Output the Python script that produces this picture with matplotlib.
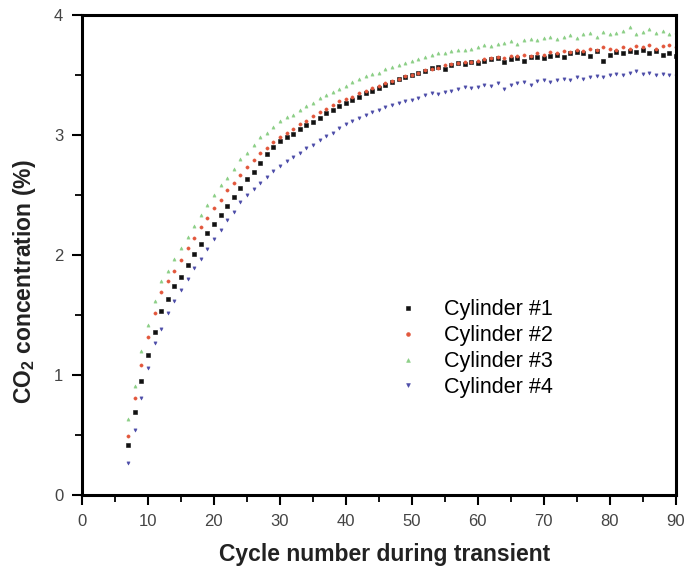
import matplotlib
matplotlib.use('Agg')
import matplotlib.pyplot as plt
import numpy as np
from matplotlib.ticker import MultipleLocator

plt.rcParams['font.family'] = ['Liberation Sans', 'DejaVu Sans']
plt.rcParams['mathtext.fontset'] = 'custom'
plt.rcParams['mathtext.rm'] = 'Liberation Sans'
plt.rcParams['mathtext.bf'] = 'Liberation Sans:bold'

cycles = np.arange(7, 91)

cyl1 = [0.42, 0.69, 0.95, 1.17, 1.36, 1.53, 1.63, 1.74, 1.82, 1.92,
        2.01, 2.09, 2.18, 2.26, 2.33, 2.41, 2.48, 2.56, 2.63, 2.69,
        2.77, 2.84, 2.90, 2.95, 2.98, 3.01, 3.05, 3.08, 3.11, 3.14,
        3.18, 3.21, 3.24, 3.27, 3.29, 3.32, 3.35, 3.37, 3.39, 3.42,
        3.44, 3.47, 3.48, 3.50, 3.52, 3.53, 3.56, 3.57, 3.55, 3.58,
        3.60, 3.59, 3.61, 3.60, 3.62, 3.63, 3.64, 3.61, 3.63, 3.64,
        3.62, 3.65, 3.65, 3.64, 3.66, 3.67, 3.65, 3.68, 3.69, 3.68,
        3.66, 3.70, 3.62, 3.67, 3.69, 3.68, 3.70, 3.69, 3.71, 3.68,
        3.70, 3.67, 3.68, 3.66]

cyl2 = [0.49, 0.81, 1.08, 1.32, 1.52, 1.69, 1.78, 1.87, 1.96, 2.06,
        2.14, 2.23, 2.31, 2.39, 2.46, 2.54, 2.60, 2.67, 2.73, 2.79,
        2.85, 2.89, 2.94, 2.98, 3.02, 3.05, 3.09, 3.12, 3.16, 3.19,
        3.22, 3.25, 3.28, 3.30, 3.32, 3.35, 3.37, 3.39, 3.41, 3.43,
        3.45, 3.47, 3.49, 3.50, 3.52, 3.54, 3.55, 3.56, 3.58, 3.59,
        3.60, 3.61, 3.61, 3.62, 3.63, 3.64, 3.65, 3.64, 3.66, 3.66,
        3.67, 3.66, 3.68, 3.67, 3.69, 3.68, 3.70, 3.69, 3.71, 3.70,
        3.72, 3.71, 3.73, 3.72, 3.71, 3.73, 3.72, 3.74, 3.73, 3.75,
        3.72, 3.74, 3.75, 3.73]

cyl3 = [0.63, 0.91, 1.20, 1.42, 1.62, 1.78, 1.87, 1.97, 2.06, 2.15,
        2.24, 2.33, 2.42, 2.50, 2.58, 2.64, 2.72, 2.80, 2.85, 2.92,
        2.98, 3.02, 3.07, 3.12, 3.15, 3.17, 3.21, 3.24, 3.27, 3.31,
        3.33, 3.36, 3.38, 3.41, 3.44, 3.47, 3.49, 3.51, 3.52, 3.55,
        3.57, 3.58, 3.60, 3.62, 3.63, 3.65, 3.67, 3.68, 3.68, 3.70,
        3.71, 3.71, 3.72, 3.73, 3.75, 3.74, 3.76, 3.77, 3.78, 3.76,
        3.79, 3.80, 3.79, 3.81, 3.82, 3.80, 3.82, 3.83, 3.81, 3.84,
        3.85, 3.82, 3.86, 3.84, 3.85, 3.87, 3.90, 3.84, 3.86, 3.88,
        3.85, 3.87, 3.84, 3.86]

cyl4 = [0.27, 0.54, 0.81, 1.06, 1.27, 1.38, 1.52, 1.62, 1.71, 1.80,
        1.89, 1.97, 2.05, 2.13, 2.21, 2.29, 2.36, 2.44, 2.50, 2.55,
        2.60, 2.65, 2.70, 2.74, 2.78, 2.82, 2.85, 2.89, 2.92, 2.96,
        2.99, 3.02, 3.06, 3.09, 3.12, 3.14, 3.17, 3.19, 3.21, 3.23,
        3.25, 3.27, 3.28, 3.29, 3.31, 3.33, 3.35, 3.34, 3.36, 3.37,
        3.38, 3.40, 3.39, 3.40, 3.42, 3.41, 3.43, 3.38, 3.42, 3.43,
        3.44, 3.42, 3.45, 3.46, 3.44, 3.46, 3.47, 3.46, 3.48, 3.47,
        3.48, 3.49, 3.48, 3.50, 3.51, 3.50, 3.52, 3.53, 3.51, 3.52,
        3.50, 3.51, 3.50, 3.49]

labels = ['Cylinder #1', 'Cylinder #2', 'Cylinder #3', 'Cylinder #4']
colors = ['#111111', '#e2573c', '#8ccf86', '#4c4ca8']
markers = ['s', 'o', '^', 'v']

fig = plt.figure(figsize=(6.97, 5.71), dpi=100)
ax = fig.add_axes([0.1176, 0.1331, 0.852, 0.8406])

for series, lab, col, mk in zip([cyl1, cyl2, cyl3, cyl4], labels, colors, markers):
    ax.plot(cycles, series, linestyle='none', marker=mk, markersize=2.3,
            color=col, markeredgewidth=0.4, label=lab)

ax.set_xlim(0, 90)
ax.set_ylim(0, 4)
ax.xaxis.set_major_locator(MultipleLocator(10))
ax.xaxis.set_minor_locator(MultipleLocator(5))
ax.yaxis.set_major_locator(MultipleLocator(1))
ax.yaxis.set_minor_locator(MultipleLocator(0.5))
ax.tick_params(which='major', direction='out', length=7.5, width=1.5,
               labelsize=12, labelcolor='#444444', top=False, right=False)
ax.tick_params(axis='x', which='major', pad=6)
ax.tick_params(axis='y', which='major', pad=6)
ax.tick_params(which='minor', direction='out', length=5, width=1.3,
               top=False, right=False)
for sp in ax.spines.values():
    sp.set_linewidth(2.2)

ax.set_xlabel('Cycle number during transient', fontsize=16.5,
              fontweight='bold', color='#222222')
ax.xaxis.set_label_coords(0.51, -0.1)
ax.set_ylabel(r'CO$_\mathbf{2}$ concentration (%)', fontsize=16.5,
              fontweight='bold', color='#222222')
ax.yaxis.set_label_coords(-0.074, 0.444)

ax.legend(loc='center', bbox_to_anchor=(0.655, 0.305), frameon=False,
          fontsize=15.5, numpoints=1, markerscale=1.2, labelspacing=0.23,
          handlelength=1.8, handletextpad=0.8)

fig.savefig('out.png', dpi=100)
